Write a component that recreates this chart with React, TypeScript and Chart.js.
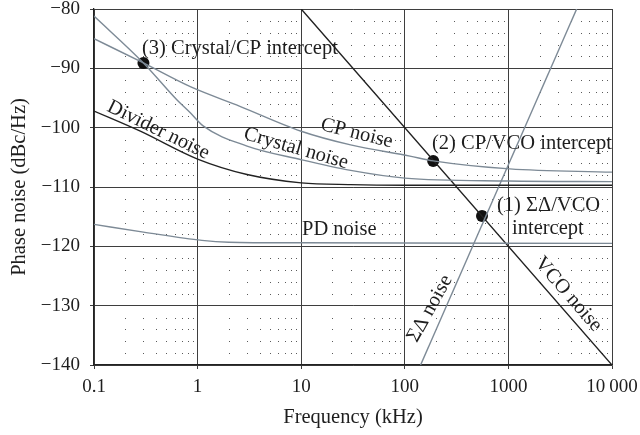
import React, { useEffect, useRef } from 'react';
import { Chart, registerables } from 'chart.js';

Chart.register(...registerables);

// ---- data (frequency in kHz, phase noise in dBc/Hz) ----
const X_TICK_VALUES = [0.1, 1, 10, 100, 1000, 10000];
const X_TICK_LABELS = ['0.1', '1', '10', '100', '1000', '10\u2009000'];
const Y_TICK_VALUES = [-140, -130, -120, -110, -100, -90, -80];
const Y_TICK_LABELS = ['\u2212140', '\u2212130', '\u2212120', '\u2212110', '\u2212100', '\u221290', '\u221280'];

const CRYSTAL_F = [0.1, 0.3, 0.63, 0.85, 1.13, 3, 10, 30, 100, 1000, 10000];
const CRYSTAL_DB = [-81.2, -89.1, -95.3, -97.5, -99.7, -103.1, -105.4, -107.2, -108.5, -109.0, -109.1];

const CP_F = [0.1, 0.3, 0.85, 2.56, 10, 30, 112, 188, 1030, 10000];
const CP_DB = [-85.0, -89.1, -93.1, -96.4, -100.6, -102.9, -104.8, -105.6, -106.95, -107.5];

const DIVIDER_F = [0.1, 0.28, 1, 3, 10, 30, 100, 1000, 10000];
const DIVIDER_DB = [-97.2, -100.6, -105.3, -107.9, -109.3, -109.6, -109.7, -109.7, -109.7];

const PD_F = [0.1, 0.3, 1.1, 2, 10, 10000];
const PD_DB = [-116.3, -117.6, -119.0, -119.3, -119.4, -119.5];

const VCO_F = [10, 10000];
const VCO_DB = [-80, -140];

const SD_F = [142, 4560];
const SD_DB = [-140, -80];

const MARK_F = [0.3, 188, 556];
const MARK_DB = [-89.1, -105.6, -114.9];

const LABEL_TEXTS = [
  '(3) Crystal/CP intercept',
  '(2) CP/VCO intercept',
  '(1) \u03A3\u0394/VCO',
  'intercept',
  'PD noise',
  'Divider noise',
  'Crystal noise',
  'CP noise',
  '\u03A3\u0394 noise',
  'VCO noise',
];
const LABEL_F = [0.2906, 183, 776, 1084, 10.18, 0.418, 8.91, 34.3, 175, 3784];
const LABEL_DB = [-87.59, -103.62, -114.08, -117.96, -118.12, -100.41, -103.5, -100.97, -130.49, -128.08];
const LABEL_ROT = [0, 0, 0, 0, 0, 26, 16, 14, -61, 49];

// ---- styles ----
const FONT = '"Liberation Serif", "Times New Roman", serif';
const TEXT = '#1e1e1e';
const GRID = '#3e3e3e';
const GRAY_LINE = '#7d8a96';
const BLACK_LINE = '#222222';

const pts = (xs: number[], ys: number[]) => xs.map((x, i) => ({ x, y: ys[i] }));

const isDecade = (v: number | undefined) => {
  if (v === undefined || v <= 0) return false;
  const l = Math.log10(v);
  return Math.abs(l - Math.round(l)) < 1e-6;
};

const xLabelFor = (v: number) => {
  for (let i = 0; i < X_TICK_VALUES.length; i++) {
    if (Math.abs(Math.log10(v) - Math.log10(X_TICK_VALUES[i])) < 1e-6) return X_TICK_LABELS[i];
  }
  return '';
};

const yLabelFor = (v: number) => {
  const i = Y_TICK_VALUES.findIndex((t) => Math.abs(t - v) < 1e-6);
  return i >= 0 ? Y_TICK_LABELS[i] : '';
};

const dotGridPlugin = {
  id: 'dotGrid',
  beforeDatasetsDraw(chart: any) {
    const { ctx, scales } = chart;
    const x = scales.x;
    const y = scales.y;
    ctx.save();
    ctx.fillStyle = '#5a5a5a';
    for (let d = 0; d < X_TICK_VALUES.length - 1; d++) {
      const dec = X_TICK_VALUES[d];
      for (let k = 2; k <= 9; k++) {
        const px = Math.round(x.getPixelForValue(k * dec));
        for (let v = -138; v <= -82; v += 2) {
          if (v % 10 === 0) continue;
          const py = Math.round(y.getPixelForValue(v));
          ctx.fillRect(px, py, 1, 1);
        }
      }
    }
    ctx.restore();
  },
};

const labelsPlugin = {
  id: 'noiseLabels',
  afterDatasetsDraw(chart: any) {
    const { ctx, scales } = chart;
    const x = scales.x;
    const y = scales.y;
    ctx.save();
    ctx.fillStyle = TEXT;
    ctx.font = `20.5px ${FONT}`;
    for (let i = 0; i < LABEL_TEXTS.length; i++) {
      const px = x.getPixelForValue(LABEL_F[i]);
      const py = y.getPixelForValue(LABEL_DB[i]);
      const rot = LABEL_ROT[i];
      ctx.save();
      ctx.translate(px, py);
      ctx.rotate((rot * Math.PI) / 180);
      ctx.textAlign = rot ? 'center' : 'left';
      ctx.textBaseline = rot ? 'middle' : 'alphabetic';
      ctx.fillText(LABEL_TEXTS[i], 0, 0);
      ctx.restore();
    }
    ctx.restore();
  },
};

const lineDs = (data: { x: number; y: number }[], color: string) => ({
  data,
  borderColor: color,
  borderWidth: 1.4,
  pointRadius: 0,
  fill: false,
  cubicInterpolationMode: 'monotone' as const,
});

export default function App() {
  const canvasRef = useRef<HTMLCanvasElement | null>(null);

  useEffect(() => {
    const canvas = canvasRef.current;
    if (!canvas) return;
    const chart = new Chart(canvas, {
      type: 'line',
      data: {
        datasets: [
          lineDs(pts(PD_F, PD_DB), GRAY_LINE),
          lineDs(pts(DIVIDER_F, DIVIDER_DB), BLACK_LINE),
          lineDs(pts(CRYSTAL_F, CRYSTAL_DB), GRAY_LINE),
          lineDs(pts(CP_F, CP_DB), GRAY_LINE),
          lineDs(pts(SD_F, SD_DB), GRAY_LINE),
          lineDs(pts(VCO_F, VCO_DB), BLACK_LINE),
          {
            data: pts(MARK_F, MARK_DB),
            showLine: false,
            pointRadius: 6,
            pointBackgroundColor: '#111',
            pointBorderColor: '#111',
            pointBorderWidth: 0,
          } as any,
        ],
      },
      options: {
        responsive: false,
        animation: false,
        events: [],
        layout: { padding: { left: 0, top: 9, right: 28, bottom: 0 } },
        plugins: { legend: { display: false }, tooltip: { enabled: false } },
        scales: {
          x: {
            type: 'logarithmic',
            min: 0.1,
            max: 10000,
            afterFit: (s: any) => {
              s.height = 70;
              s.paddingLeft = 0;
              s.paddingRight = 0;
            },
            ticks: {
              autoSkip: false,
              maxRotation: 0,
              minRotation: 0,
              padding: 7,
              color: TEXT,
              font: { family: FONT, size: 19 },
              callback: (v: any) => xLabelFor(Number(v)),
            },
            grid: {
              color: (c: any) => (isDecade(c.tick && c.tick.value) ? GRID : 'rgba(0,0,0,0)'),
              lineWidth: 1,
              tickLength: 4,
              drawTicks: true,
            },
            border: { color: '#222', width: 1.3 },
            title: {
              display: true,
              text: 'Frequency (kHz)',
              color: TEXT,
              font: { family: FONT, size: 20.5 },
              padding: { top: 0, bottom: 5.3 },
            },
          },
          y: {
            type: 'linear',
            min: -140,
            max: -80,
            afterFit: (s: any) => {
              s.width = 94;
              s.paddingTop = 0;
              s.paddingBottom = 0;
            },
            ticks: {
              stepSize: 10,
              padding: 10,
              color: TEXT,
              font: { family: FONT, size: 19 },
              callback: (v: any) => yLabelFor(Number(v)),
            },
            grid: {
              color: GRID,
              lineWidth: 1,
              tickLength: 4,
              drawTicks: true,
            },
            border: { color: '#222', width: 1.3 },
            title: {
              display: true,
              text: 'Phase noise (dBc/Hz)',
              color: TEXT,
              font: { family: FONT, size: 20.5 },
              padding: { top: 7.7, bottom: 0 },
            },
          },
        },
      } as any,
      plugins: [dotGridPlugin, labelsPlugin],
    });
    return () => chart.destroy();
  }, []);

  return (
    <div style={{ position: 'absolute', left: 0, top: 0, width: 640, height: 435, background: '#fff' }}>
      <canvas ref={canvasRef} width={640} height={435} style={{ display: 'block' }} />
    </div>
  );
}
